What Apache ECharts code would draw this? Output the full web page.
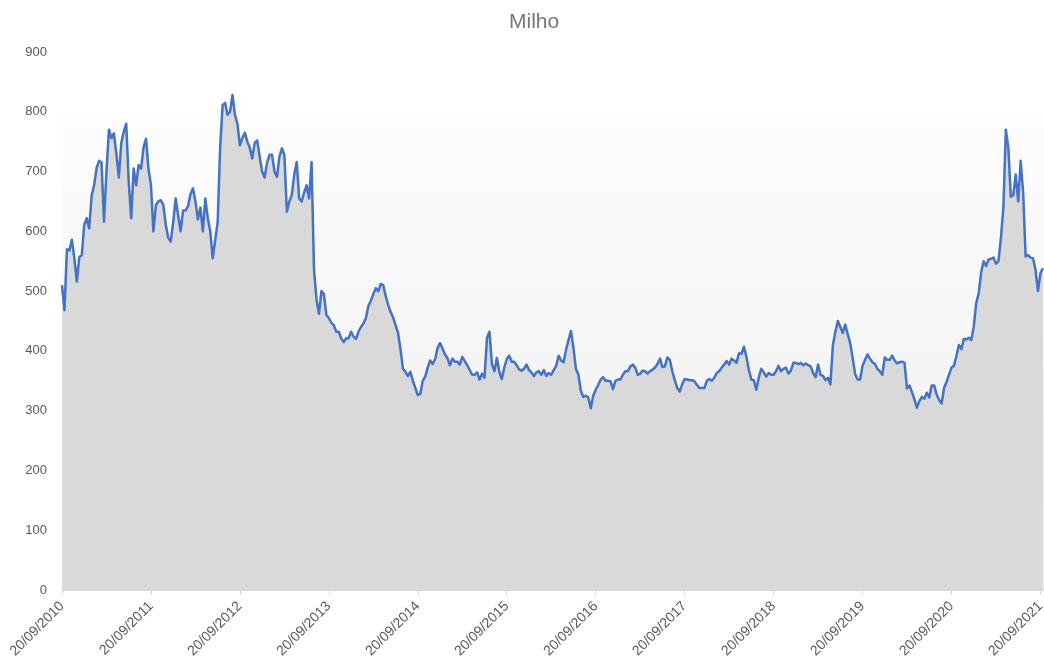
<!DOCTYPE html>
<html>
<head>
<meta charset="utf-8">
<title>Milho</title>
<script src="https://cdn.jsdelivr.net/npm/echarts@6/dist/echarts.min.js"></script>
<style>
  html, body { margin: 0; padding: 0; background: #ffffff; }
  #chart { width: 1044px; height: 666px; }
</style>
</head>
<body>
<div id="chart"></div>
<script>
// Axis tick labels: one per season start (20/09 of each year)
const yearTicks = [
  '20/09/2010', '20/09/2011', '20/09/2012', '20/09/2013', '20/09/2014', '20/09/2015',
  '20/09/2016', '20/09/2017', '20/09/2018', '20/09/2019', '20/09/2020', '20/09/2021'
];

// Corn prices, 36 readings per season (about every 10 days), each season starting 20/09
const season2010 = [510, 468, 570, 568, 586, 555, 516, 557, 560, 611, 622, 605, 660, 677, 706, 718, 715, 616,
  700, 770, 756, 764, 730, 690, 748, 767, 780, 683, 622, 705, 677, 711, 705, 740, 755, 705];
const season2011 = [677, 600, 644, 650, 652, 644, 611, 589, 583, 615, 655, 627, 600, 635, 635, 642, 662, 672,
  650, 620, 640, 600, 655, 622, 600, 555, 585, 615, 740, 811, 815, 795, 800, 828, 795, 780];
const season2012 = [744, 756, 765, 750, 740, 722, 748, 752, 725, 700, 690, 715, 728, 728, 700, 691, 725, 739,
  728, 633, 650, 661, 695, 716, 655, 650, 665, 677, 655, 716, 535, 486, 462, 500, 495, 460];
const season2013 = [455, 447, 443, 432, 432, 421, 415, 421, 421, 432, 424, 420, 432, 440, 446, 455, 475, 484,
  495, 505, 500, 512, 510, 492, 477, 465, 456, 443, 430, 403, 370, 365, 358, 365, 350, 338];
const season2014 = [326, 328, 350, 357, 372, 384, 378, 386, 405, 413, 404, 394, 388, 376, 387, 382, 382, 377,
  390, 383, 376, 368, 360, 360, 364, 352, 362, 355, 422, 432, 378, 366, 388, 365, 353, 372];
const season2015 = [386, 392, 382, 382, 376, 369, 367, 370, 377, 368, 364, 358, 364, 366, 360, 368, 358, 363,
  360, 368, 375, 392, 384, 381, 402, 418, 433, 405, 370, 360, 333, 323, 325, 322, 304, 325];
const season2016 = [335, 343, 352, 356, 350, 350, 349, 336, 350, 352, 352, 360, 366, 366, 374, 377, 372, 360,
  362, 367, 366, 362, 366, 369, 372, 378, 387, 373, 374, 389, 385, 366, 351, 338, 332, 344];
const season2017 = [353, 352, 351, 351, 349, 343, 338, 338, 338, 350, 353, 350, 355, 363, 366, 372, 377, 383,
  377, 387, 384, 380, 396, 395, 407, 390, 368, 352, 351, 335, 355, 370, 364, 357, 363, 360];
const season2018 = [360, 366, 375, 366, 370, 372, 362, 367, 380, 380, 378, 380, 376, 379, 376, 374, 363, 356,
  377, 360, 358, 351, 355, 344, 410, 432, 450, 440, 430, 444, 428, 413, 388, 361, 352, 352];
const season2019 = [375, 385, 394, 387, 381, 378, 370, 366, 360, 389, 385, 385, 392, 384, 379, 381, 382, 380,
  337, 342, 331, 319, 305, 316, 323, 320, 330, 322, 342, 342, 327, 318, 312, 338, 348, 360];
const season2020 = [372, 375, 392, 410, 403, 420, 419, 422, 418, 440, 480, 496, 531, 550, 542, 553, 554, 556,
  546, 550, 588, 640, 770, 740, 658, 660, 695, 650, 718, 665, 558, 560, 556, 555, 536, 500, 530, 538];

const seasons = [season2010, season2011, season2012, season2013, season2014, season2015,
  season2016, season2017, season2018, season2019, season2020];
const READINGS_PER_SEASON = 36;

// x = seasons elapsed since 20/09/2010
const points = [];
seasons.forEach((vals, s) => {
  vals.forEach((v, i) => points.push([s + i / READINGS_PER_SEASON, v]));
});

const FONT = 'Liberation Sans, Arial, sans-serif';
const chart = echarts.init(document.getElementById('chart'), null, { renderer: 'canvas' });

chart.setOption({
  animation: false,
  backgroundColor: '#ffffff',
  title: {
    text: 'Milho',
    left: 504,
    top: 7,
    textStyle: { fontFamily: FONT, fontSize: 21, fontWeight: 'normal', color: '#767676' }
  },
  grid: {
    left: 62, right: 0, top: 52, bottom: 76,
    outerBoundsMode: 'none',
    show: true,
    borderWidth: 0,
    backgroundColor: {
      type: 'linear', x: 0, y: 0, x2: 0, y2: 1,
      colorStops: [
        { offset: 0, color: '#ffffff' },
        { offset: 0.11, color: '#ffffff' },
        { offset: 0.115, color: '#fdfdfd' },
        { offset: 1, color: '#eeeeee' }
      ]
    }
  },
  xAxis: {
    type: 'value',
    min: 0,
    max: 11.04,
    interval: 1,
    splitLine: { show: false },
    axisLine: { show: true, lineStyle: { color: '#d9d9d9', width: 1 } },
    axisTick: { show: true, length: 5, lineStyle: { color: '#d9d9d9' } },
    axisLabel: {
      rotate: 45,
      margin: 14,
      color: '#595959',
      fontFamily: FONT,
      fontSize: 14,
      showMaxLabel: true,
      formatter: v => (Number.isInteger(v) && yearTicks[v]) ? yearTicks[v] : ''
    }
  },
  yAxis: {
    type: 'value',
    min: 0,
    max: 900,
    interval: 100,
    splitLine: { show: false },
    axisLine: { show: false },
    axisTick: { show: false },
    axisLabel: { margin: 15, color: '#595959', fontFamily: FONT, fontSize: 13 }
  },
  series: [{
    type: 'line',
    data: points,
    showSymbol: false,
    symbol: 'none',
    sampling: 'none',
    lineStyle: { color: '#4472c4', width: 2.5, join: 'round' },
    areaStyle: { color: '#d9d9d9', opacity: 1 },
    z: 3
  }]
});
</script>
</body>
</html>
